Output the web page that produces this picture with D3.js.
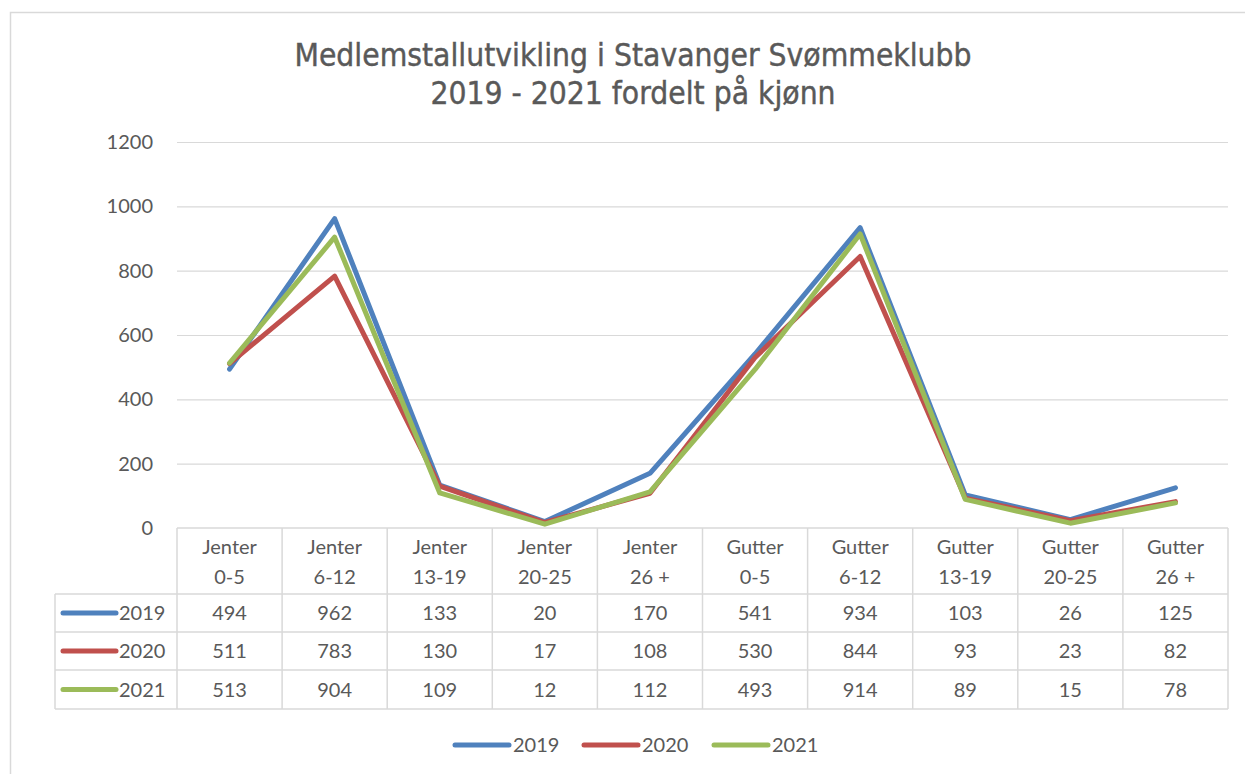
<!DOCTYPE html>
<html>
<head>
<meta charset="utf-8">
<script src="https://cdn.jsdelivr.net/npm/d3@7"></script>
<style>
  body { margin: 0; background: #fff; }
  svg { display: block; font-family: Lato, "Open Sans", sans-serif; }
</style>
</head>
<body>
<div id="chart"></div>
<script>
const categories = [
  ['Jenter', '0-5'], ['Jenter', '6-12'], ['Jenter', '13-19'], ['Jenter', '20-25'], ['Jenter', '26 +'],
  ['Gutter', '0-5'], ['Gutter', '6-12'], ['Gutter', '13-19'], ['Gutter', '20-25'], ['Gutter', '26 +']
];
const years = ['2019', '2020', '2021'];
const values2019 = [494, 962, 133, 20, 170, 541, 934, 103, 26, 125];
const values2020 = [511, 783, 130, 17, 108, 530, 844, 93, 23, 82];
const values2021 = [513, 904, 109, 12, 112, 493, 914, 89, 15, 78];
const colors = ['#4F81BD', '#C0504D', '#9BBB59'];
const yTicks = [0, 200, 400, 600, 800, 1000, 1200];
const titleLines = ['Medlemstallutvikling i Stavanger Svømmeklubb', '2019 - 2021 fordelt på kjønn'];

const series = years.map((y, i) => ({
  name: y,
  values: [values2019, values2020, values2021][i],
  color: colors[i]
}));

const w = 1245, h = 774;
const plotLeft = 177, plotRight = 1228, plotTop = 142, plotBottom = 528;
const rowH = [66, 38, 38, 39];
const tableLeft = 55;
const textCol = '#595959', gridCol = '#d9d9d9';

const svg = d3.select('#chart').append('svg').attr('width', w).attr('height', h);

// outer chart border
svg.append('rect')
  .attr('x', 10.5).attr('y', 12.5).attr('width', 1240).attr('height', 770)
  .attr('fill', '#fff').attr('stroke', gridCol).attr('stroke-width', 1.5);

// title
svg.append('g').selectAll('text').data(titleLines).enter().append('text')
  .attr('x', 633).attr('y', (d, i) => 66 + i * 38)
  .attr('text-anchor', 'middle')
  .attr('font-family', '"DejaVu Sans Condensed", "Liberation Sans Narrow", sans-serif')
  .attr('font-size', 31.5).attr('fill', textCol)
  .attr('stroke', textCol).attr('stroke-width', 0.4)
  .text(d => d);

const xScale = d3.scaleBand().domain(d3.range(categories.length)).range([plotLeft, plotRight]);
const yScale = d3.scaleLinear().domain([0, 1200]).range([plotBottom, plotTop]);

// gridlines
svg.append('g').selectAll('line').data(yTicks.slice(1)).enter().append('line')
  .attr('x1', plotLeft).attr('x2', plotRight)
  .attr('y1', d => yScale(d) + 0.5).attr('y2', d => yScale(d) + 0.5)
  .attr('stroke', gridCol).attr('stroke-width', 1.2);

// y axis
const yAxis = d3.axisLeft(yScale).tickValues(yTicks).tickFormat(d3.format('d'))
  .tickSize(0).tickPadding(24);
const yg = svg.append('g').attr('transform', 'translate(' + plotLeft + ',0)').call(yAxis);
yg.select('.domain').remove();
yg.selectAll('text').attr('font-size', 20).attr('fill', textCol)
  .attr('font-family', 'Lato, "Open Sans", sans-serif');

// lines
const line = d3.line()
  .x((d, i) => xScale(i) + xScale.bandwidth() / 2)
  .y(d => yScale(d));

svg.append('g').selectAll('path').data(series).enter().append('path')
  .attr('d', d => line(d.values))
  .attr('fill', 'none')
  .attr('stroke', d => d.color)
  .attr('stroke-width', 5)
  .attr('stroke-linejoin', 'round')
  .attr('stroke-linecap', 'round');

// data table
const rowY = [plotBottom];
rowH.forEach((r, i) => rowY.push(rowY[i] + r));
const table = svg.append('g');

// horizontal lines
table.append('line').attr('x1', plotLeft).attr('x2', plotRight).attr('y1', plotBottom).attr('y2', plotBottom)
  .attr('stroke', gridCol).attr('stroke-width', 1.5);
table.selectAll('.hrow').data(rowY.slice(1)).enter().append('line')
  .attr('x1', tableLeft).attr('x2', plotRight)
  .attr('y1', d => d).attr('y2', d => d)
  .attr('stroke', gridCol).attr('stroke-width', 1.5);

// vertical lines
const vx = d3.range(categories.length + 1).map(i => i < categories.length ? xScale(i) : plotRight);
table.selectAll('.vcol').data(vx).enter().append('line')
  .attr('x1', d => d).attr('x2', d => d)
  .attr('y1', plotBottom).attr('y2', rowY[4])
  .attr('stroke', gridCol).attr('stroke-width', 1.5);
table.append('line')
  .attr('x1', tableLeft).attr('x2', tableLeft)
  .attr('y1', rowY[1]).attr('y2', rowY[4])
  .attr('stroke', gridCol).attr('stroke-width', 1.5);

// header labels
const header = table.selectAll('.hdr').data(categories).enter().append('text')
  .attr('text-anchor', 'middle')
  .attr('font-size', 20).attr('fill', textCol);
header.append('tspan')
  .attr('x', (d, i) => xScale(i) + xScale.bandwidth() / 2).attr('y', plotBottom + 26)
  .text(d => d[0]);
header.append('tspan')
  .attr('x', (d, i) => xScale(i) + xScale.bandwidth() / 2).attr('y', plotBottom + 56)
  .text(d => d[1]);

// value rows
series.forEach((s, si) => {
  const cy = rowY[si + 1] + rowH[si + 1] / 2;
  table.append('line')
    .attr('x1', 63).attr('x2', 116)
    .attr('y1', cy).attr('y2', cy)
    .attr('stroke', s.color).attr('stroke-width', 5).attr('stroke-linecap', 'round');
  table.append('text')
    .attr('x', 119).attr('y', cy + 7)
    .attr('font-size', 20).attr('fill', textCol)
    .text(s.name);
  table.selectAll('.v' + si).data(s.values).enter().append('text')
    .attr('x', (d, i) => xScale(i) + xScale.bandwidth() / 2)
    .attr('y', cy + 7)
    .attr('text-anchor', 'middle')
    .attr('font-size', 20).attr('fill', textCol)
    .text(d => d);
});

// legend
const legendX = [455, 584, 714];
const legend = svg.append('g').selectAll('g').data(series).enter().append('g')
  .attr('transform', (d, i) => 'translate(' + legendX[i] + ',745)');
legend.append('line')
  .attr('x1', 0).attr('x2', 54)
  .attr('stroke', d => d.color).attr('stroke-width', 5).attr('stroke-linecap', 'round');
legend.append('text')
  .attr('x', 58).attr('y', 7)
  .attr('font-size', 20).attr('fill', textCol)
  .text(d => d.name);
</script>
</body>
</html>
